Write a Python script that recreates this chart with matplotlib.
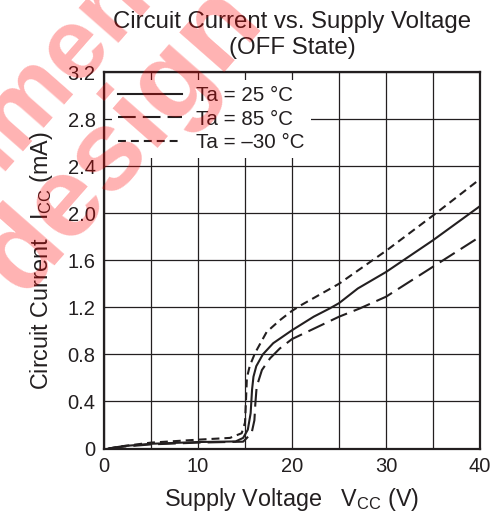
import numpy as np
import matplotlib
matplotlib.use("Agg")
import matplotlib.pyplot as plt
from matplotlib.textpath import TextToPath
from matplotlib.font_manager import FontProperties

plt.rcParams['font.family'] = ['Liberation Sans', 'DejaVu Sans']
plt.rcParams['mathtext.fontset'] = 'custom'
plt.rcParams['mathtext.rm'] = 'Liberation Sans'
plt.rcParams['mathtext.it'] = 'Liberation Sans'

# ---- data ----
v_25 = [0.5, 2, 5, 10, 14, 14.8, 15.3, 15.6, 15.75, 15.9, 16.2, 16.9, 18, 20, 22.3, 24, 25, 27, 30, 35, 40]
i_25 = [0.0, 0.02, 0.04, 0.055, 0.06, 0.09, 0.16, 0.30, 0.50, 0.61, 0.70, 0.80, 0.895, 1.005, 1.12, 1.19, 1.235, 1.36, 1.50, 1.77, 2.06]

v_85 = [0.5, 2, 5, 10, 14.8, 15.7, 16.0, 16.1, 16.24, 16.8, 17.66, 18.7, 20, 25, 27.2, 30, 35, 40]
i_85 = [0.0, 0.015, 0.035, 0.05, 0.058, 0.13, 0.24, 0.38, 0.525, 0.667, 0.766, 0.85, 0.93, 1.12, 1.19, 1.29, 1.545, 1.80]

v_m30 = [0.5, 2, 5, 10, 13.4, 14.65, 15.0, 15.1, 15.2, 15.5, 16.06, 17.3, 18.7, 20, 21, 25, 30, 35, 40]
i_m30 = [0.0, 0.02, 0.05, 0.075, 0.09, 0.13, 0.22, 0.40, 0.60, 0.70, 0.81, 0.99, 1.09, 1.17, 1.22, 1.40, 1.68, 1.98, 2.29]

labels = ["Ta = 25 °C", "Ta = 85 °C", "Ta = –30 °C"]
x_ticks = [0, 10, 20, 30, 40]
x_grid = [5, 15, 25, 35]
y_ticks = [0, 0.4, 0.8, 1.2, 1.6, 2.0, 2.4, 2.8, 3.2]
y_tick_labels = ["0", "0.4", "0.8", "1.2", "1.6", "2.0", "2.4", "2.8", "3.2"]

W, H = 499, 520
fig = plt.figure(figsize=(W / 100, H / 100), dpi=100)
ax = fig.add_axes([104 / W, (H - 448.5) / H, 376 / W, 376.5 / H])

txt = '#231f20'
lw = 1.5
ax.plot(v_25, i_25, color=txt, lw=lw, ls='-', label=labels[0], zorder=3)
ax.plot(v_85, i_85, color=txt, lw=lw, ls=(0, (8.5, 3.4)), label=labels[1], zorder=3)
ax.plot(v_m30, i_m30, color=txt, lw=lw, ls=(0, (3.8, 2.4)), label=labels[2], zorder=3)

ax.set_xlim(0, 40)
ax.set_ylim(0, 3.2)
ax.set_xticks(x_ticks)
ax.set_xticks(x_grid, minor=True)
ax.set_yticks(y_ticks)
ax.set_yticklabels(y_tick_labels)
ax.tick_params(which='both', length=0, labelsize=14.5, colors=txt, pad=6)
ax.grid(True, which='both', color=txt, lw=0.9, zorder=1)
ax.set_axisbelow(True)
for s in ax.spines.values():
    s.set_linewidth(1.6)
    s.set_color(txt)

ax.set_xlabel(r"Supply Voltage   V$_{\mathrm{CC}}$ (V)", fontsize=16.8, color=txt, labelpad=7)
ax.set_ylabel(r"Circuit Current   I$_{\mathrm{CC}}$ (mA)", fontsize=16.8, color=txt, labelpad=9)
ax.set_title("Circuit Current vs. Supply Voltage\n(OFF State)", fontsize=17.3, color=txt,
             pad=13, linespacing=1.25)

leg = ax.legend(loc='upper left', bbox_to_anchor=(0.021, 0.979), borderaxespad=0,
                fontsize=14.8, handlelength=3.1, handletextpad=0.7, labelspacing=0.22,
                borderpad=0.3, frameon=True, fancybox=False)
leg.get_frame().set_facecolor('white')
leg.get_frame().set_edgecolor('none')
leg.get_frame().set_alpha(1)
for t in leg.get_texts():
    t.set_color(txt)
leg.set_zorder(5)

# ---- watermark ----
theta = 48.7
u = np.array([np.cos(np.radians(theta)), np.sin(np.radians(theta))])
ttp = TextToPath()
prop1 = FontProperties(family='Liberation Sans', weight='bold', size=72)
prop2 = FontProperties(family='Liberation Sans', weight='bold', size=82)

def width_px(s, prop):
    w, h, d = ttp.get_text_width_height_descent(s, prop, ismath=False)
    return w * 100 / 72

line1 = "Not Recommended"
off = width_px("Not Recom", prop1) + width_px("men", prop1) / 2 - width_px(line1, prop1) / 2
c_men = np.array([68.0, H - 62.0])
a1 = c_men - off * u
wm_col = (1, 0, 0)
wm_alpha = 0.3
fig.text(a1[0] / W, a1[1] / H, line1, fontproperties=prop1, color=wm_col, alpha=wm_alpha,
         rotation=theta, rotation_mode='anchor', ha='center', va='center', zorder=10)

c_design = np.array([122.0, H - 140.0])
fig.text(c_design[0] / W, c_design[1] / H, "design", fontproperties=prop2, color=wm_col,
         alpha=wm_alpha, rotation=theta, rotation_mode='anchor', ha='center', va='center', zorder=10)

fig.savefig("out.png", dpi=100)
